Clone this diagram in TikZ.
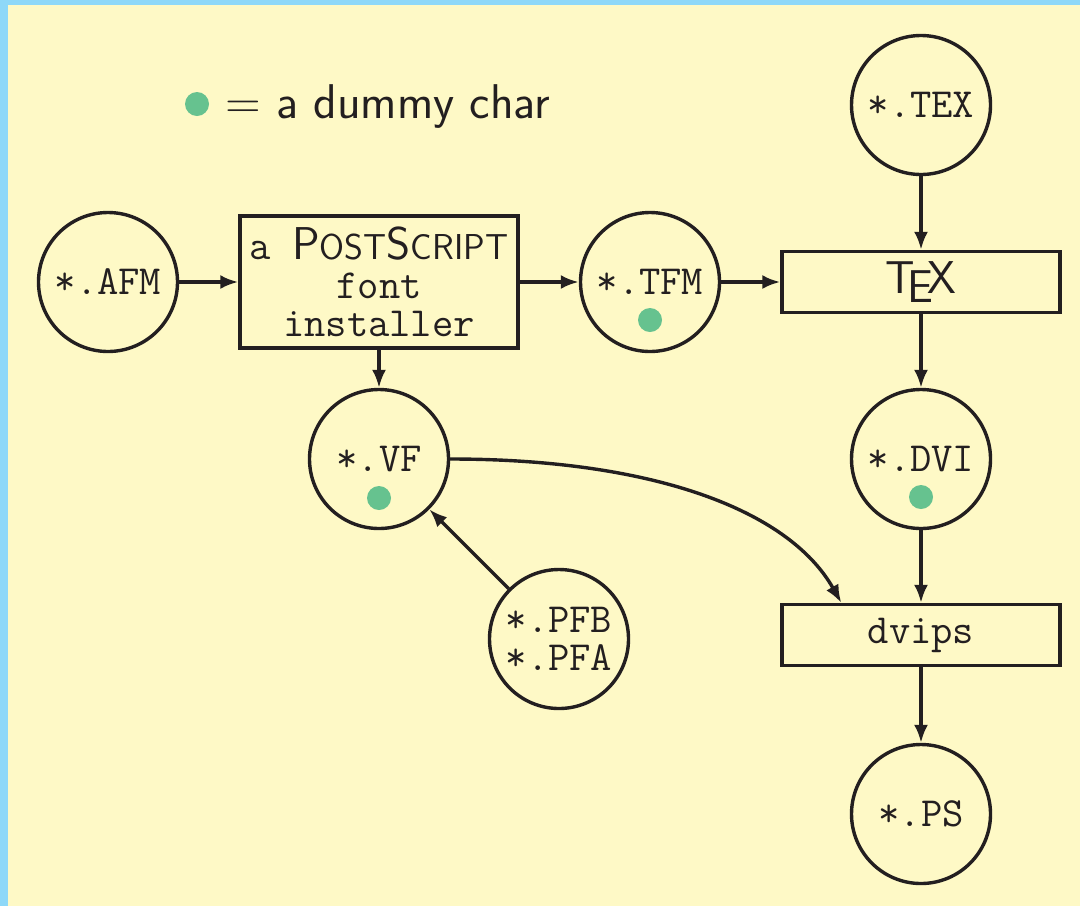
\documentclass[tikz,border=0pt]{standalone}
\usepackage{fontspec}
\usetikzlibrary{arrows.meta}
\definecolor{bg}{HTML}{FEF9C6}
\definecolor{framecol}{HTML}{8ED8F8}
\definecolor{dotcol}{HTML}{66C28F}
\definecolor{ink}{HTML}{231F20}
\newcommand{\ttsz}{\fontsize{20.7pt}{19.25pt}\selectfont\ttfamily}
\newcommand{\sfsz}{\fontsize{23pt}{27pt}\selectfont\sffamily}
\newcommand{\legsz}{\fontsize{24.4pt}{28pt}\selectfont\sffamily}
\newcommand{\scsz}{\fontsize{18pt}{20pt}\selectfont}
\newcommand{\TeXsf}{{\sfsz T\kern-.1667em\lower.5ex\hbox{E}\kern-.125em X}}
\newcommand{\PSsf}{{\sfsz P{\scsz OST}S{\scsz CRIPT}}}
\begin{document}
\begin{tikzpicture}[x=0.5pt,y=-0.5pt,
  every node/.style={text=ink},
  filecircle/.style={draw=ink,line width=1.7pt,circle,minimum size=69.5pt,inner sep=0pt,font=\ttsz,align=center},
  procbox/.style={draw=ink,line width=1.7pt,rectangle,minimum width=139pt,inner sep=0pt,align=center,font=\ttsz},
  dummy/.style={circle,fill=dotcol,minimum size=12pt,inner sep=0pt},
  conn/.style={draw=ink,line width=1.7pt,-{Latex[length=9pt,width=7pt]}}]
\fill[bg] (0,0) rectangle (1080,906);
\fill[framecol] (0,0) rectangle (1080,5);
\fill[framecol] (0,0) rectangle (8,906);
\useasboundingbox (0,0) rectangle (1080,906);

% legend
\node[dummy] (legdot) at (197,104) {};
\node[anchor=base west,inner sep=0pt,font=\legsz] (legtext) at (225,118) {= a dummy char};

% nodes
\node[filecircle] (afm) at (108,282) {*.AFM};
\node[procbox,minimum height=66pt] (ps) at (379,282) {a \PSsf\\font\\installer};
\node[filecircle] (tfm) at (650,282) {*.TFM};
\node[dummy] (tfmdot) at (650,320) {};
\node[filecircle] (tex) at (921,105) {*.TEX};
\node[procbox,minimum height=30.5pt] (texbox) at (921,282) {\TeXsf};
\node[filecircle] (dvi) at (921,459) {*.DVI};
\node[dummy] (dvidot) at (921,497) {};
\node[procbox,minimum height=30.5pt] (dvips) at (921,635) {dvips};
\node[filecircle] (psfile) at (921,814) {*.PS};
\node[filecircle] (vf) at (379,459) {*.VF};
\node[dummy] (vfdot) at (379,498) {};
\node[filecircle] (pfb) at (559,639) {*.PFB\\*.PFA};
\coordinate (dvipsin) at ([xshift=30.5pt]dvips.north west);

% connectors
\draw[conn] (afm) -- (ps);
\draw[conn] (ps) -- (tfm);
\draw[conn] (tfm) -- (texbox);
\draw[conn] (tex) -- (texbox);
\draw[conn] (texbox) -- (dvi);
\draw[conn] (dvi) -- (dvips);
\draw[conn] (dvips) -- (psfile);
\draw[conn] (ps) -- (vf);
\draw[conn] (pfb) -- (vf);
\draw[conn] (vf.east) .. controls +(200,0) and +(-53,-94) .. (dvipsin);
\end{tikzpicture}
\end{document}
